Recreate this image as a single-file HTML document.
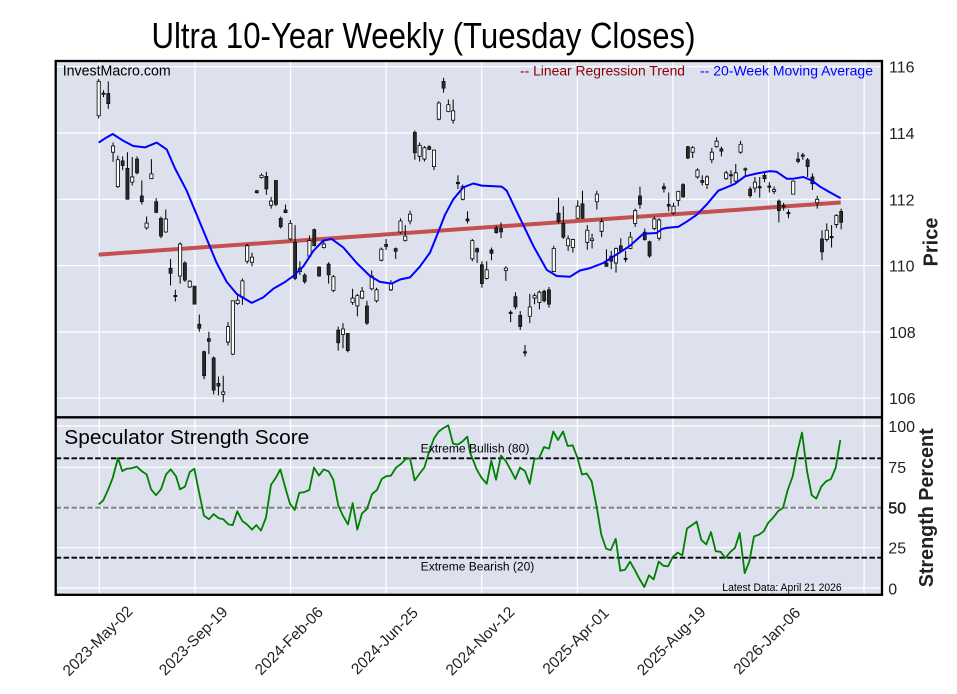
<!DOCTYPE html>
<html><head><meta charset="utf-8"><style>html,body{margin:0;padding:0;background:#fff}svg{display:block}text{font-family:"Liberation Sans",Arial,sans-serif}</style></head>
<body>
<svg width="957" height="694" viewBox="0 0 957 694" xmlns="http://www.w3.org/2000/svg">
<rect width="957" height="694" fill="#fff"/>
<rect x="55.7" y="61" width="826.3" height="533.8" fill="#dce1ed"/>
<!-- grid -->
<g stroke="#fff" stroke-width="1.2">
<path d="M99.3 61V595M194.9 61V595M290.5 61V595M386.1 61V595M481.7 61V595M577.3 61V595M672.9 61V595M768.5 61V595M864.1 61V595"/>
<path d="M55.7 66.7H882M55.7 133H882M55.7 199.3H882M55.7 265.6H882M55.7 331.9H882M55.7 398.2H882"/>
<path d="M55.7 426H882M55.7 467.2H882M55.7 507.7H882M55.7 547.7H882M55.7 588H882"/>
</g>
<!-- regression -->
<line x1="98.7" y1="254.6" x2="840.7" y2="202.5" stroke="#c44f4f" stroke-width="4"/>
<!-- candles -->
<g transform="translate(98.7,60) scale(4.79,0.344)">
<path fill="none" stroke="#000" stroke-width="1" vector-effect="non-scaling-stroke" d="M0 55V170M1 88V108M2 62V142M3 240V296M4 278V372M5 280V320M6 268V405M7 282V365M8 280V333M9 350V420M10 455V493M11 288V345M12 402V445M13 455V518M14 435V502M15 578V655M16 668V702M17 530V650M18 585V645M19 640V662M20 657V710M21 740V790M22 845V928M23 790V855M24 862V972M25 920V975M26 918V995M27 762V830M28 700V858M29 680V712M30 635V712M31 535V592M32 560V600M33 378V388M34 330V345M35 325V392M36 398V432M37 350V425M38 455V490M39 420V445M40 465V525M41 480V640M42 585V625M43 620V650M44 510V575M45 490V542M46 600V630M47 525V548M48 588V650M49 625V675M50 775V845M51 765V838M52 795V850M53 665V712M54 680V745M55 660V695M56 700V770M57 612V670M58 662V705M59 545V585M60 520V552M61 640V672M62 545V578M63 460V505M64 480V528M65 438V478M66 205V290M67 240V295M68 250V295M69 248V262M70 260V320M71 120V175M72 52V95M73 115V152M74 115V185M75 335V375M76 362V408M77 440V475M78 520V585M79 545V590M80 585V662M81 585V638M82 545V582M83 482V505M84 472V518M85 600V642M86 728V762M87 675V725M88 730V785M89 828V862M90 680V765M91 678V710M92 670V725M93 668V705M94 660V720M95 540V615M96 400V475M97 425V520M98 510V555M99 520V560M100 408V462M101 380V462M102 480V552M103 505V548M104 380V435M105 460V515M106 550V600M107 555V608M108 545V618M109 518V560M110 555V588M111 500V550M112 432V485M113 368V432M114 490V525M115 525V575M116 455V495M117 460V525M118 358V385M119 385V440M120 415V450M121 380V425M122 358V400M123 250V288M124 250V285M125 315V345M126 335V365M127 335V375M128 255V300M129 225V255M130 252V280M131 322V348M132 320V360M133 302V360M134 235V272M135 312V338M136 368V400M137 340V385M138 340V400M139 325V355M140 355V385M141 368V390M142 405V472M143 415V438M144 435V460M145 350V390M146 268V300M147 270V290M148 285V340M149 330V378M150 395V432M151 495V582M152 475V528M153 480V545M154 448V488M155 432V492"/>
<path fill="#2a2a2a" stroke="#000" stroke-width="0.6" vector-effect="non-scaling-stroke" d="M1.67 97h.66V127h-.66zM4.67 293h.66V307h-.66zM5.67 315h.66V405h-.66zM7.67 288h.66V328h-.66zM8.67 395h.66V412h-.66zM11.67 412h.66V443h-.66zM12.67 460h.66V512h-.66zM14.67 605h.66V620h-.66zM17.67 590h.66V640h-.66zM19.67 657h.66V710h-.66zM20.67 768h.66V780h-.66zM21.67 848h.66V918h-.66zM22.67 810h.66V818h-.66zM23.67 866h.66V960h-.66zM24.67 940h.66V948h-.66zM32.67 380h.66V386h-.66zM34.67 338h.66V375h-.66zM36.67 350h.66V420h-.66zM37.67 460h.66V485h-.66zM38.67 436h.66V444h-.66zM40.67 530h.66V635h-.66zM42.67 625h.66V645h-.66zM44.67 493h.66V540h-.66zM45.67 602h.66V628h-.66zM47.67 593h.66V625h-.66zM49.67 785h.66V822h-.66zM51.67 795h.66V845h-.66zM55.67 715h.66V765h-.66zM59.67 536h.66V542h-.66zM61.67 548h.66V556h-.66zM65.67 210h.66V270h-.66zM68.67 252h.66V260h-.66zM71.67 62h.66V82h-.66zM74.67 355h.66V360h-.66zM76.67 462h.66V468h-.66zM78.67 548h.66V558h-.66zM79.67 595h.66V650h-.66zM81.67 552h.66V562h-.66zM82.67 488h.66V502h-.66zM83.67 490h.66V500h-.66zM86.67 688h.66V718h-.66zM87.67 742h.66V775h-.66zM92.67 672h.66V700h-.66zM93.67 668h.66V710h-.66zM95.67 445h.66V470h-.66zM96.67 475h.66V515h-.66zM100.67 418h.66V460h-.66zM105.67 590h.66V600h-.66zM106.67 570h.66V585h-.66zM108.67 540h.66V555h-.66zM112.67 395h.66V420h-.66zM113.67 500h.66V522h-.66zM114.67 528h.66V570h-.66zM117.67 368h.66V375h-.66zM118.67 420h.66V425h-.66zM121.67 362h.66V398h-.66zM122.67 252h.66V285h-.66zM125.67 350h.66V356h-.66zM129.67 258h.66V265h-.66zM135.67 375h.66V395h-.66zM137.67 368h.66V372h-.66zM138.67 335h.66V345h-.66zM139.67 366h.66V370h-.66zM141.67 410h.66V438h-.66zM145.67 288h.66V295h-.66zM147.67 290h.66V310h-.66zM148.67 340h.66V360h-.66zM150.67 520h.66V558h-.66zM154.67 440h.66V472h-.66zM0.67 96h.66V100h-.66zM15.67 684h.66V688h-.66zM85.67 733h.66V737h-.66zM88.67 848h.66V852h-.66zM109.67 576h.66V580h-.66zM131.67 333h.66V337h-.66zM134.67 316h.66V320h-.66zM142.67 423h.66V427h-.66zM143.67 443h.66V447h-.66zM146.67 276h.66V280h-.66zM152.67 513h.66V517h-.66z"/>
<path fill="#fff" stroke="#000" stroke-width="0.8" vector-effect="non-scaling-stroke" d="M-.33 62h.66V162h-.66zM2.67 250h.66V268h-.66zM3.67 290h.66V368h-.66zM6.67 340h.66V355h-.66zM9.67 474h.66V488h-.66zM10.67 331h.66V345h-.66zM13.67 462h.66V500h-.66zM16.67 535h.66V628h-.66zM18.67 643h.66V660h-.66zM25.67 965h.66V972h-.66zM26.67 775h.66V820h-.66zM27.67 700h.66V855h-.66zM28.67 698h.66V708h-.66zM29.67 642h.66V690h-.66zM30.67 540h.66V585h-.66zM31.67 573h.66V588h-.66zM33.67 335h.66V342h-.66zM35.67 410h.66V422h-.66zM39.67 475h.66V520h-.66zM41.67 605h.66V615h-.66zM43.67 525h.66V570h-.66zM46.67 535h.66V545h-.66zM48.67 630h.66V670h-.66zM50.67 782h.66V798h-.66zM52.67 692h.66V705h-.66zM53.67 685h.66V715h-.66zM54.67 672h.66V692h-.66zM56.67 628h.66V665h-.66zM57.67 668h.66V700h-.66zM58.67 550h.66V582h-.66zM60.67 648h.66V668h-.66zM62.67 468h.66V500h-.66zM63.67 512h.66V525h-.66zM64.67 448h.66V468h-.66zM66.67 248h.66V280h-.66zM67.67 255h.66V288h-.66zM69.67 262h.66V310h-.66zM70.67 125h.66V172h-.66zM72.67 130h.66V150h-.66zM73.67 148h.66V175h-.66zM75.67 368h.66V405h-.66zM77.67 525h.66V578h-.66zM80.67 610h.66V635h-.66zM84.67 605h.66V612h-.66zM89.67 718h.66V745h-.66zM90.67 685h.66V692h-.66zM91.67 675h.66V705h-.66zM94.67 548h.66V615h-.66zM97.67 520h.66V540h-.66zM98.67 522h.66V545h-.66zM99.67 425h.66V460h-.66zM101.67 495h.66V530h-.66zM102.67 520h.66V525h-.66zM103.67 390h.66V412h-.66zM104.67 470h.66V498h-.66zM107.67 548h.66V590h-.66zM110.67 515h.66V548h-.66zM111.67 438h.66V475h-.66zM115.67 462h.66V490h-.66zM116.67 465h.66V518h-.66zM119.67 425h.66V445h-.66zM120.67 382h.66V408h-.66zM123.67 255h.66V268h-.66zM124.67 320h.66V340h-.66zM126.67 340h.66V362h-.66zM127.67 268h.66V290h-.66zM128.67 236h.66V252h-.66zM130.67 328h.66V345h-.66zM132.67 328h.66V352h-.66zM133.67 245h.66V268h-.66zM136.67 355h.66V372h-.66zM140.67 377h.66V382h-.66zM144.67 352h.66V390h-.66zM149.67 405h.66V415h-.66zM151.67 495h.66V522h-.66zM153.67 452h.66V478h-.66z"/>
</g>
<!-- moving average -->
<polyline fill="none" stroke="#0000ff" stroke-width="2" stroke-linejoin="round" points="98.7,142.6 105,138.4 112.7,134 123.3,140.8 133.3,146 145,147.4 156.7,142.6 166.7,149.4 175,168.4 186.7,190.7 196.7,214.8 206.7,238.9 216.7,263 226.7,281.9 236.7,293.9 251.7,302.9 263.3,297.4 273.3,288.8 285,282 293.3,276 303.3,266.4 313.3,250.9 323.3,240.6 331.7,238.9 343.3,247.5 356.7,263 370,276 380,281.9 391.7,283.6 400,279.5 410,277.4 420,266.4 430,252.6 438.3,232 445,214.8 453.3,199.3 463.3,187.3 473.3,183.5 481.7,185.6 501.7,186.6 506.7,190.7 513.3,204.5 523.3,225.1 533.3,245.8 546.7,269.8 556.7,276 570,276.7 580,270.5 590,268.1 603.3,263 616.7,254.4 630,245.8 643.3,233.7 656.7,233 662,229 666.7,227.9 678.3,226.8 686.7,221.7 696.7,214.8 706.7,204.5 718.3,190.7 726.7,187.3 735,183.8 745,176.3 756.7,173.5 770,171.1 776.7,171.8 786.7,178.7 793.3,178.7 803.3,177 811.7,180.4 820,186.6 830,192.4 840.7,198.3"/>
<!-- strength dashed lines -->
<g stroke-width="1.8" stroke-dasharray="5.5,2.4" fill="none">
<line x1="55.7" y1="458.3" x2="882" y2="458.3" stroke="#000"/>
<line x1="55.7" y1="557.7" x2="882" y2="557.7" stroke="#000"/>
<line x1="55.7" y1="507.7" x2="882" y2="507.7" stroke="#808080"/>
</g>
<!-- strength line -->
<polyline fill="none" stroke="#008000" stroke-width="1.8" stroke-linejoin="round" points="98.7,504.4 103.3,500.3 108.3,489.3 112.7,478 118,458 122.3,471.1 126.7,468.7 131.3,468.3 136.7,466.6 141.7,471.1 146.7,474.5 151,489.3 156,495.2 161,489.3 166,474.5 170.7,469.4 176,476.2 180,489.3 185,486.6 189.7,472.1 194.3,468.7 199.3,493.4 204,515.8 209,519.2 213.7,514.1 218.7,518.2 223.3,519.2 228.3,524.4 232.7,525.1 237.3,511.3 242.3,521 247,524.4 252,529.6 256.3,525.1 261,530.6 266,517.5 271,484.8 275.7,478 280.3,469.4 285,486.6 290,503.8 294.7,510 299.3,492.8 304.3,492.1 309.3,490 314,467.6 319,475.6 323.7,469.4 328.7,471.4 333.3,479.7 338.3,505.5 343,515.8 348,524.4 352.7,503.1 357.3,529.6 362,513.4 367,508.9 372,494.1 377,490 381.7,479 386.3,476.2 391,475.6 396,467.6 400.7,464.2 405.7,459 410,458.4 414.7,480.4 419.7,473.5 424.3,467.6 429,452.2 434,438.4 438.7,431.5 443.3,428.1 448.3,425.3 453,443.6 457.7,444.6 462.7,441.2 467.3,436.7 470,452.2 476.7,469.4 481.7,478 486.7,483.8 491.3,460.8 496,479.7 501,455.6 505.7,460.8 510.7,470 515.3,479 520,467.6 525,471.1 529.7,483.8 534.3,459 539,458.4 544,447 549,448.7 553.3,431.5 558,440.1 563,431.5 567.7,446 572.7,445.3 577.3,457.3 582,474.5 586.7,473.5 591.7,481.4 596.7,507.2 601.3,534.7 606,548.5 610.7,550.2 615.7,538.8 620.3,570.8 625,569.8 630,561.6 634.7,569.8 639.7,579.4 644.3,587 649,575.3 653.7,579.4 658.7,561.6 663.3,565.7 668,566.4 672.7,557.1 677.7,552.6 682.3,555.4 687,528.5 692,525.1 696.7,521.6 701.3,539.9 706.3,544.4 711,532 715.7,551.2 720.7,551.9 725.3,558.1 730.3,551.9 735,547.8 739.7,533 744.7,573.2 749.3,561.6 754,536.4 759,534.7 763.7,531.3 768.3,522.7 773.3,517.5 778,511.3 783,507.9 787.7,490 792.7,476.2 797.3,452.2 802,432.6 807,471.1 811.7,495.2 816.3,498.6 821.3,486.6 826,481.4 831,479 835.7,467.6 840.3,440.1"/>
<!-- borders -->
<rect x="55.7" y="61" width="826.3" height="533.8" fill="none" stroke="#000" stroke-width="2.3"/>
<line x1="55.7" y1="417.3" x2="882" y2="417.3" stroke="#000" stroke-width="2.3"/>
<!-- texts -->
<text x="151.5" y="47.8" font-size="36" fill="#000" textLength="544" lengthAdjust="spacingAndGlyphs">Ultra 10-Year Weekly (Tuesday Closes)</text>
<text x="62.7" y="75.3" font-size="14.4" fill="#000" textLength="108" lengthAdjust="spacingAndGlyphs">InvestMacro.com</text>
<text x="520" y="75.5" font-size="14" fill="#8b0000" textLength="165" lengthAdjust="spacingAndGlyphs">-- Linear Regression Trend</text>
<text x="700" y="75.5" font-size="14" fill="#0000ff" textLength="173" lengthAdjust="spacingAndGlyphs">-- 20-Week Moving Average</text>
<text x="64.3" y="444" font-size="20.5" fill="#000" textLength="245" lengthAdjust="spacingAndGlyphs">Speculator Strength Score</text>
<text x="420.7" y="452.7" font-size="11.5" fill="#000" textLength="108.7" lengthAdjust="spacingAndGlyphs">Extreme Bullish (80)</text>
<text x="420.7" y="570.7" font-size="11.5" fill="#000" textLength="113.6" lengthAdjust="spacingAndGlyphs">Extreme Bearish (20)</text>
<text x="722.3" y="591" font-size="11" fill="#000" textLength="119.4" lengthAdjust="spacingAndGlyphs">Latest Data: April 21 2026</text>
<g font-size="16" fill="#222">
<text x="889" y="72.7">116</text>
<text x="889" y="139">114</text>
<text x="889" y="205.3">112</text>
<text x="889" y="271.6">110</text>
<text x="889" y="337.9">108</text>
<text x="889" y="404.2">106</text>
<text x="888.3" y="432">100</text>
<text x="888.3" y="473">75</text>
<text x="888.3" y="513.7" stroke="#222" stroke-width="0.5">50</text>
<text x="888.3" y="553.7">25</text>
<text x="888.3" y="594.5">0</text>
</g>
<text transform="translate(937.5,242) rotate(-90)" text-anchor="middle" font-size="20" font-weight="bold" fill="#222">Price</text>
<text transform="translate(932.8,507.8) rotate(-90)" text-anchor="middle" font-size="20" font-weight="bold" fill="#222" textLength="159" lengthAdjust="spacingAndGlyphs">Strength Percent</text>
<g font-size="15.5" fill="#222" text-anchor="middle">
<text transform="translate(97.8,641) rotate(-45)" y="5">2023-May-02</text>
<text transform="translate(193.4,641) rotate(-45)" y="5">2023-Sep-19</text>
<text transform="translate(289,641) rotate(-45)" y="5">2024-Feb-06</text>
<text transform="translate(384.6,641) rotate(-45)" y="5">2024-Jun-25</text>
<text transform="translate(480.2,641) rotate(-45)" y="5">2024-Nov-12</text>
<text transform="translate(575.8,641) rotate(-45)" y="5">2025-Apr-01</text>
<text transform="translate(671.4,641) rotate(-45)" y="5">2025-Aug-19</text>
<text transform="translate(767,641) rotate(-45)" y="5">2026-Jan-06</text>
</g>
</svg>
</body></html>
